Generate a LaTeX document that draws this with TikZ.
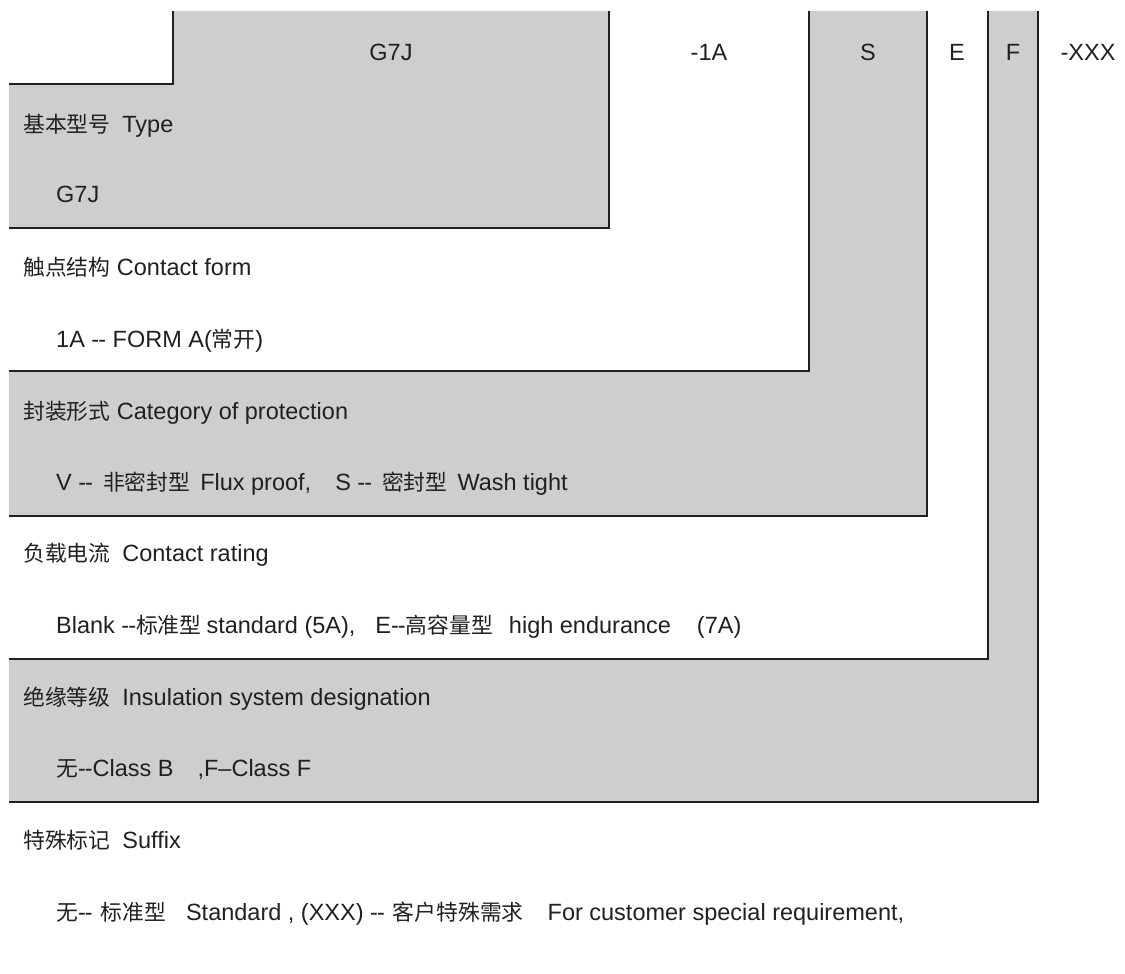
\documentclass[tikz,border=0pt]{standalone}
\usepackage{fontspec}
\setmainfont{Liberation Sans}
\newfontfamily\cjk{Noto Sans CJK SC}
\newcommand{\zh}[1]{{\cjk\fontsize{21.8}{27}\selectfont #1}}
\newcommand{\hh}{-\kern-1pt-}
\definecolor{panel}{RGB}{206,206,206}
\definecolor{edge}{RGB}{35,31,32}
\tikzset{
  frame/.style={draw=edge, line width=1.8pt},
  lbl/.style={anchor=base west, inner sep=0pt, text=edge, font=\fontsize{23.5}{27}\selectfont},
  code/.style={anchor=base, inner sep=0pt, text=edge, font=\fontsize{23.5}{27}\selectfont}
}
\begin{document}
\begin{tikzpicture}[x=1pt,y=-1pt]
\useasboundingbox (0,0) rectangle (1125,974);
% grey panels
\fill[panel] (173,11) -- (609,11) -- (609,228) -- (9,228) -- (9,84) -- (173,84) -- cycle;
\fill[panel] (809,11) -- (927,11) -- (927,516) -- (9,516) -- (9,371) -- (809,371) -- cycle;
\fill[panel] (988,11) -- (1038,11) -- (1038,802) -- (9,802) -- (9,659) -- (988,659) -- cycle;
% edges
\draw[frame] (173,11) -- (173,84) -- (9,84);
\draw[frame] (609,11) -- (609,228) -- (9,228);
\draw[frame] (809,11) -- (809,371) -- (9,371);
\draw[frame] (927,11) -- (927,516) -- (9,516);
\draw[frame] (988,11) -- (988,659) -- (9,659);
\draw[frame] (1038,11) -- (1038,802) -- (9,802);
% top code
\node[code] (cG) at (391,61) {G7J};
\node[code] (c1) at (709,61) {-1A};
\node[code] (cS) at (868,61) {S};
\node[code] (cE) at (957,61) {E};
\node[code] (cF) at (1013,61) {F};
\node[code] (cX) at (1088,61) {-XXX};
% descriptions
\node[lbl] (h1) at (23,132) {\zh{基本型号}\hspace{12pt}Type};
\node[lbl] (d1) at (56,202) {G7J};
\node[lbl] (h2) at (23,275) {\zh{触点结构} Contact form};
\node[lbl] (d2) at (56,347) {1A \hh\ FORM A(\zh{常开})};
\node[lbl] (h3) at (23,419) {\zh{封装形式} Category of protection};
\node[lbl] (d3) at (56,490) {V \hh\hspace{10pt}\zh{非密封型}\hspace{10pt}Flux proof,\hspace{24pt}S \hh\hspace{10pt}\zh{密封型}\hspace{10pt}Wash tight};
\node[lbl] (h4) at (23,561) {\zh{负载电流}\hspace{12pt}Contact rating};
\node[lbl] (d4) at (56,633) {Blank \hh\zh{标准型}\hspace{5pt}standard (5A),\hspace{20pt}E\hh\zh{高容量型}\hspace{16pt}high endurance\hspace{26pt}(7A)};
\node[lbl] (h5) at (23,705) {\zh{绝缘等级}\hspace{12pt}Insulation system designation};
\node[lbl] (d5) at (56,776) {\zh{无}\hh Class B\hspace{24pt},F\textendash Class F};
\node[lbl] (h6) at (23,848) {\zh{特殊标记}\hspace{12pt}Suffix};
\node[lbl] (d6) at (56,920) {\zh{无}\hh\hspace{8pt}\zh{标准型}\hspace{20pt}Standard , (XXX) \hh\hspace{8pt}\zh{客户特殊需求}\hspace{24pt}For customer special requirement,};
\end{tikzpicture}
\end{document}
